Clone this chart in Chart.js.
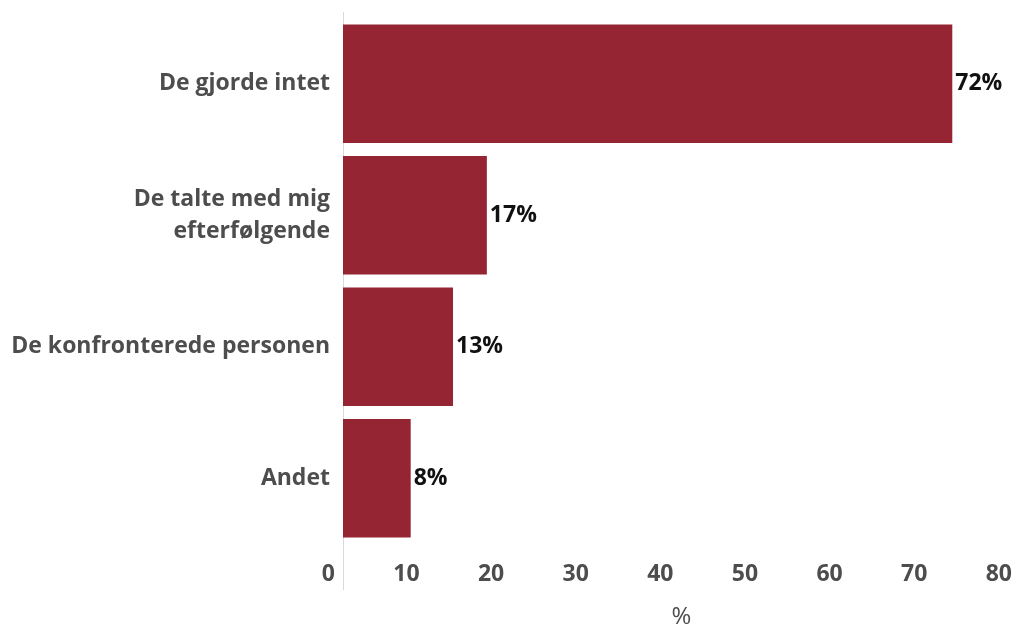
<!DOCTYPE html>
<html>
<head>
<meta charset="utf-8">
<script src="https://cdn.jsdelivr.net/npm/chart.js@4"></script>
<style>
  html, body { margin: 0; padding: 0; background: #fff; overflow: hidden; }
  #wrap { width: 1016px; height: 625px; overflow: hidden; position: relative; }
  canvas { position: absolute; left: 0; top: 0; }
</style>
</head>
<body>
<div id="wrap"><canvas id="chart" width="1024" height="625"></canvas></div>
<script>
/* ---------- data ---------- */
const categories = [
  "De gjorde intet",
  ["De talte med mig", "efterfølgende"],
  "De konfronterede personen",
  "Andet"
];
const values = [72, 17, 13, 8];
const xTickValues = [0, 10, 20, 30, 40, 50, 60, 70, 80];
const axisTitle = "%";

const BAR_COLOR = "#962534";
const LABEL_GREY = "#4d4d4d";
const FONT = "'Open Sans', 'Noto Sans', sans-serif";

/* ---------- plugins ---------- */

// light vertical line at x = 0, running a bit past the plot area
const zeroLine = {
  id: "zeroLine",
  beforeDatasetsDraw(chart) {
    const { ctx, chartArea, scales } = chart;
    const x = Math.round(scales.x.getPixelForValue(0)) + 0.5;
    ctx.save();
    ctx.strokeStyle = "#d9d9d9";
    ctx.lineWidth = 1;
    ctx.beginPath();
    ctx.moveTo(x, chartArea.top - 6);
    ctx.lineTo(x, chartArea.bottom + 46);
    ctx.stroke();
    ctx.restore();
  }
};

// value labels at the end of each bar
const valueLabels = {
  id: "valueLabels",
  afterDatasetsDraw(chart) {
    const { ctx } = chart;
    const meta = chart.getDatasetMeta(0);
    ctx.save();
    ctx.font = `bold 23px ${FONT}`;
    ctx.fillStyle = "#111";
    ctx.textAlign = "left";
    ctx.textBaseline = "middle";
    meta.data.forEach((bar, i) => {
      ctx.fillText(values[i] + "%", bar.x + 3, bar.y);
    });
    ctx.restore();
  }
};

/* ---------- chart ---------- */

new Chart(document.getElementById("chart").getContext("2d"), {
  type: "bar",
  data: {
    labels: categories,
    datasets: [{
      data: values,
      backgroundColor: BAR_COLOR,
      borderWidth: 0,
      categoryPercentage: 0.9,
      barPercentage: 1.0
    }]
  },
  options: {
    indexAxis: "y",
    responsive: false,
    animation: false,
    events: [],
    layout: { padding: { top: 18, right: 4, bottom: 0, left: 0 } },
    plugins: {
      legend: { display: false },
      tooltip: { enabled: false }
    },
    scales: {
      x: {
        min: 0,
        max: 80,
        afterBuildTicks(scale) {
          scale.ticks = xTickValues.map(v => ({ value: v }));
        },
        afterFit(scale) {
          scale.height = 81;
          scale.paddingLeft = 0;
          scale.paddingRight = 0;
        },
        grid: { display: false, drawTicks: false },
        border: { display: false },
        ticks: {
          align: "end",
          labelOffset: -8,
          padding: 17,
          color: LABEL_GREY,
          font: { family: FONT, size: 23, weight: "bold" }
        },
        title: {
          display: true,
          text: axisTitle,
          color: LABEL_GREY,
          padding: { top: 0, bottom: -4 },
          font: { family: FONT, size: 24, lineHeight: 1 }
        }
      },
      y: {
        afterFit(scale) {
          scale.width = 343;
          scale.paddingTop = 0;
          scale.paddingBottom = 0;
        },
        grid: { display: false, drawTicks: false },
        border: { display: false },
        ticks: {
          padding: 13,
          color: LABEL_GREY,
          font: { family: FONT, size: 23, weight: "bold", lineHeight: 1.4 }
        }
      }
    }
  },
  plugins: [zeroLine, valueLabels]
});
</script>
</body>
</html>
